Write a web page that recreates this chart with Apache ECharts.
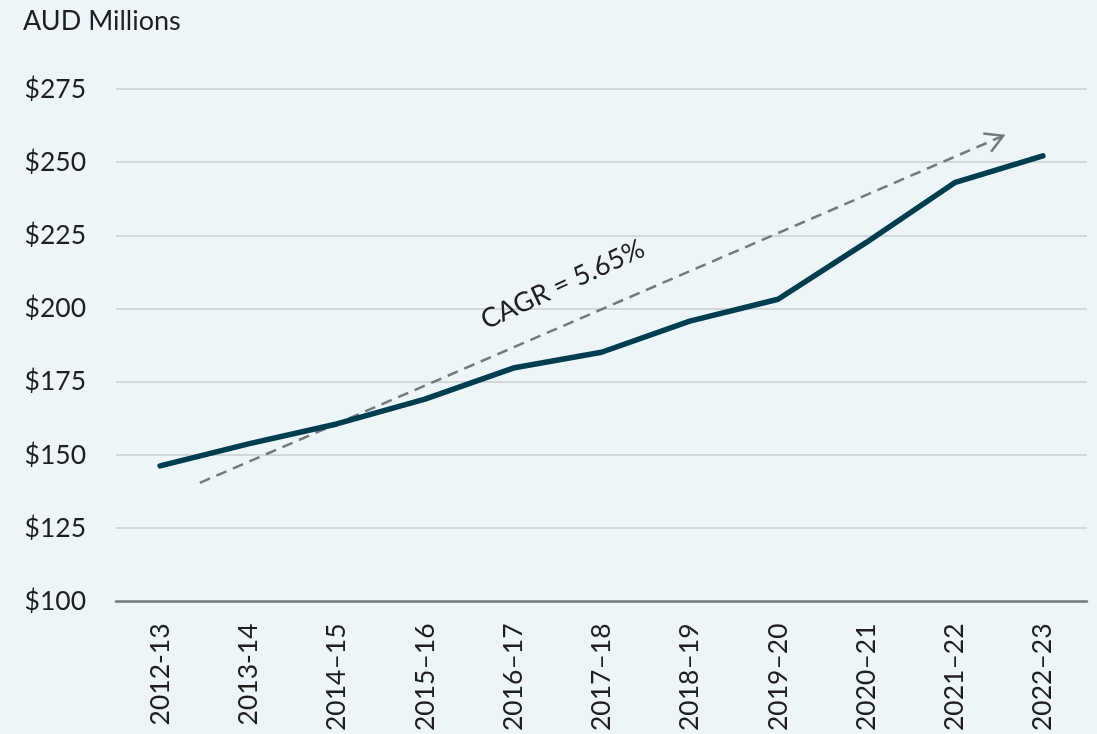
<!DOCTYPE html>
<html>
<head>
<meta charset="utf-8">
<script src="https://cdn.jsdelivr.net/npm/echarts@6/dist/echarts.min.js"></script>
<style>
  html, body { margin: 0; padding: 0; background: #eef5f8; }
  #chart { width: 1097px; height: 734px; }
</style>
</head>
<body>
<div id="chart"></div>
<script>
// Financial years on the x axis
const years = ['2012-13', '2013-14', '2014–15', '2015–16', '2016–17', '2017–18',
               '2018–19', '2019–20', '2020–21', '2021–22', '2022–23'];
// Annual value, AUD millions
const values = [146.3, 153.8, 160.6, 169.1, 179.7, 185.1, 195.7, 203.2, 222.6, 243.0, 252.2];
// Y axis ticks
const yMin = 100, yMax = 275, yStep = 25;
// Trend arrow: [x index, value] at tail and head
const trendStart = [0.45, 140.5];
const trendEnd = [9.55, 259.0];
// Growth annotation
const cagr = 5.65;
const cagrLabelAt = [4.56, 208.2];

const FONT = 'Lato';
const chart = echarts.init(document.getElementById('chart'));

function renderTrend(params, api) {
  const p0 = api.coord([api.value(0), api.value(1)]);
  const p1 = api.coord([api.value(2), api.value(3)]);
  const lp = api.coord([api.value(4), api.value(5)]);
  const ang = Math.atan2(p1[1] - p0[1], p1[0] - p0[0]);
  const len = 20, spread = 0.52;
  const w1 = [p1[0] - len * Math.cos(ang - spread), p1[1] - len * Math.sin(ang - spread)];
  const w2 = [p1[0] - len * Math.cos(ang + spread), p1[1] - len * Math.sin(ang + spread)];
  const stroke = '#737a7c';
  return {
    type: 'group',
    children: [
      { type: 'line', shape: { x1: p0[0], y1: p0[1], x2: p1[0], y2: p1[1] },
        style: { stroke, lineWidth: 2.5, lineDash: [11, 7] } },
      { type: 'polyline', shape: { points: [w1, p1, w2] },
        style: { stroke, lineWidth: 2.5, fill: null } },
      { type: 'text', x: lp[0], y: lp[1], rotation: 25 * Math.PI / 180,
        style: { text: 'CAGR = ' + cagr.toFixed(2) + '%', font: '400 27px ' + FONT,
                 fill: '#1f1f1f', align: 'center', verticalAlign: 'middle' } }
    ]
  };
}

chart.setOption({
  backgroundColor: '#eef5f8',
  animation: false,
  title: {
    text: 'AUD Millions', left: 18, top: 3,
    textStyle: { fontFamily: FONT, fontWeight: 400, fontSize: 27, color: '#1f1f1f' }
  },
  grid: { left: 116, right: 10, top: 89, bottom: 131, containLabel: false },
  xAxis: [{
    type: 'category', data: years, boundaryGap: true,
    axisLine: { lineStyle: { color: '#6f7b7e', width: 2.5 } },
    axisTick: { show: false },
    axisLabel: { rotate: 90, margin: 22, fontFamily: FONT, fontSize: 26.5, color: '#1f1f1f' }
  }, {
    type: 'value', min: -0.5, max: 10.5, show: false
  }],
  yAxis: {
    type: 'value', min: yMin, max: yMax, interval: yStep,
    axisLine: { show: false }, axisTick: { show: false },
    splitLine: { lineStyle: { color: '#c9ced1', width: 1.5 } },
    axisLabel: { margin: 30, fontFamily: FONT, fontSize: 26.5, color: '#1f1f1f',
                 formatter: v => '$' + v }
  },
  series: [{
    type: 'line', data: values, xAxisIndex: 0,
    symbol: 'none', lineStyle: { color: '#003d4f', width: 5.5, cap: 'round', join: 'round' },
    z: 3
  }, {
    type: 'custom', xAxisIndex: 1, renderItem: renderTrend, z: 2,
    data: [[trendStart[0], trendStart[1], trendEnd[0], trendEnd[1], cagrLabelAt[0], cagrLabelAt[1]]]
  }]
});
</script>
</body>
</html>
